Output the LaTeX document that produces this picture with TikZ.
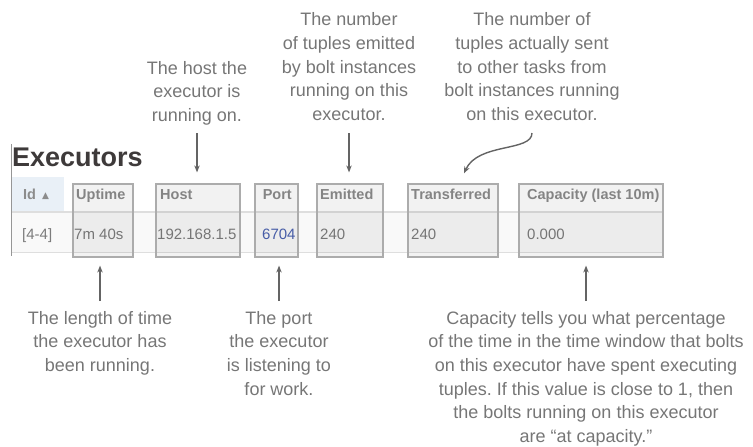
\documentclass[tikz,border=0pt]{standalone}
\usepackage{fontspec}
\setmainfont{Liberation Sans}
\newfontfamily\symfont{DejaVu Sans}
\usetikzlibrary{arrows.meta}
\definecolor{notegray}{RGB}{118,118,118}
\definecolor{hdrgray}{RGB}{140,140,140}
\definecolor{valgray}{RGB}{124,124,124}
\definecolor{portblue}{RGB}{75,98,176}
\definecolor{titlecol}{RGB}{62,58,58}
\definecolor{idblue}{RGB}{233,240,247}
\definecolor{rowgray}{RGB}{249,249,249}
\definecolor{linegray}{RGB}{222,222,222}
\definecolor{bordergray}{RGB}{150,150,150}
\definecolor{boxgray}{RGB}{172,172,172}
\definecolor{arrgray}{RGB}{100,100,100}
\frenchspacing
\begin{document}
\begin{tikzpicture}[x=1pt,y=-1pt,
  note/.style={align=center, inner sep=0pt, anchor=north, text=notegray,
    font=\fontsize{18}{23.6}\selectfont},
  hdr/.style={anchor=base west, inner sep=0pt, text=hdrgray,
    font=\fontsize{14.5}{16}\selectfont\bfseries},
  val/.style={anchor=base west, inner sep=0pt, text=valgray,
    font=\fontsize{15}{17}\selectfont},
  hbox/.style={draw=boxgray, line width=1.2pt, fill=black, fill opacity=0.05,
    inner sep=0pt, minimum height=73pt},
  arr/.style={draw=arrgray, line width=1.4pt, -{Stealth[length=7pt,width=5.5pt]}}]
\useasboundingbox (0,0) rectangle (753,447);
% table background
\fill[idblue] (12,177) rectangle (64,212);
\fill[rowgray] (12,212) rectangle (664,252);
\draw[linegray, line width=1.5pt] (12,212) -- (664,212);
\draw[linegray, line width=1pt] (12,252) -- (664,252);
\draw[bordergray, line width=1.2pt] (11.5,144) -- (11.5,256);
% title
\node[anchor=base west, inner sep=0pt, text=titlecol,
  font=\fontsize{27}{30}\selectfont\bfseries] (title) at (12,166.5) {Executors};
% header
\node[hdr] (hid) at (23,199) {Id\hspace{6pt}\raisebox{1pt}{\symfont\fontsize{9}{10}\selectfont ▲}};
\node[hdr] (hup) at (76,199) {Uptime};
\node[hdr] (hhost) at (160,199) {Host};
\node[hdr, anchor=base east] (hport) at (292,199) {Port};
\node[hdr] (hemit) at (320,199) {Emitted};
\node[hdr] (htrans) at (411,199) {Transferred};
\node[hdr] (hcap) at (527,199) {Capacity (last 10m)};
% values
\node[val] (vid) at (22,239) {[4-4]};
\node[val] (vup) at (74,239) {7m 40s};
\node[val] (vhost) at (157,239) {192.168.1.5};
\node[val, text=portblue] (vport) at (262,239) {6704};
\node[val] (vemit) at (320,239) {240};
\node[val] (vtrans) at (411,239) {240};
\node[val] (vcap) at (527,239) {0.000};
% highlight boxes
\node[hbox, minimum width=60pt] (bup) at (103,220.5) {};
\node[hbox, minimum width=84pt] (bhost) at (198,220.5) {};
\node[hbox, minimum width=43pt] (bport) at (276.5,220.5) {};
\node[hbox, minimum width=66pt] (bemit) at (350,220.5) {};
\node[hbox, minimum width=90pt] (btrans) at (453,220.5) {};
\node[hbox, minimum width=144pt] (bcap) at (591,220.5) {};
% notes
\node[note] (nhost) at (197,61) {The host the\\executor is\\running on.};
\node[note] (nemit) at (349,12.6) {The number\\of tuples emitted\\by bolt instances\\running on this\\executor.};
\node[note] (ntrans) at (532,12.6) {The number of\\tuples actually sent\\to other tasks from\\bolt instances running\\on this executor.};
\node[note] (nup) at (100,311) {The length of time\\the executor has\\been running.};
\node[note] (nport) at (279,311) {The port\\the executor\\is listening to\\for work.};
\node[note] (ncap) at (586,311) {Capacity tells you what percentage\\of the time in the time window that bolts\\on this executor have spent executing\\tuples. If this value is close to 1, then\\the bolts running on this executor\\are “at capacity.”};
% arrows
\draw[arr, shorten >=11pt] (nhost.south |- 0,133) -- (nhost.south |- bhost.north);
\draw[arr, shorten >=11pt] (nemit.south |- 0,133) -- (nemit.south |- bemit.north);
\draw[arr] (ntrans.south |- 0,133) .. controls +(0,19) and ([shift={(25,-41)}]btrans.north) .. ([shift={(11,-10)}]btrans.north);
\draw[arr, shorten >=8pt] ([yshift=10pt]nup.north) -- (nup.north |- bup.south);
\draw[arr, shorten >=8pt] ([yshift=10pt]nport.north) -- (nport.north |- bport.south);
\draw[arr, shorten >=8pt] ([yshift=10pt]ncap.north) -- (ncap.north |- bcap.south);
\end{tikzpicture}
\end{document}
